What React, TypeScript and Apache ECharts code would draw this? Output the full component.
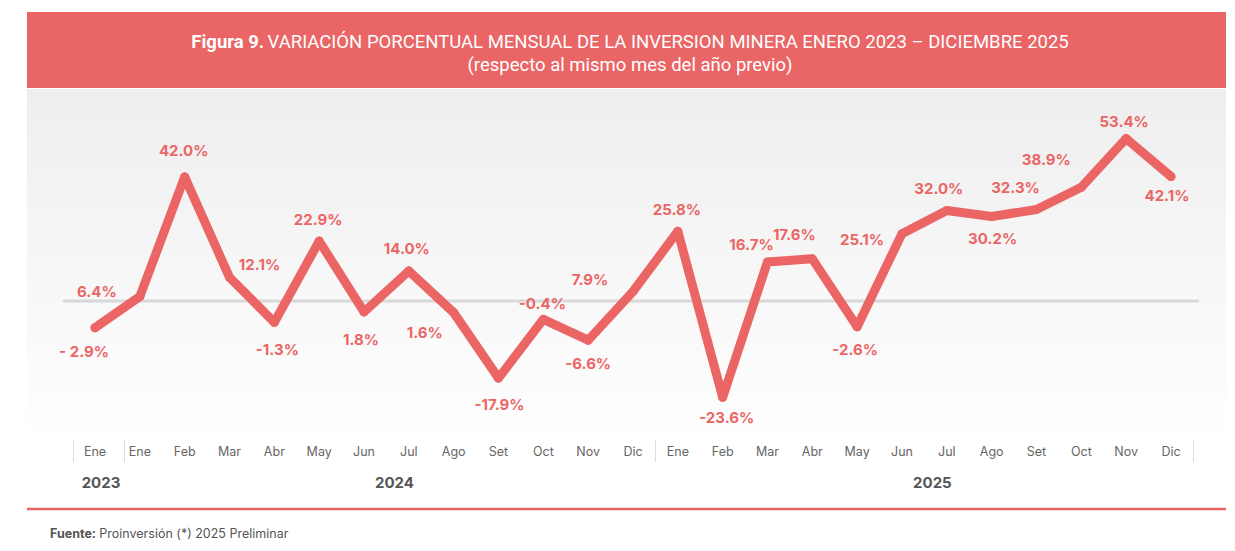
import React, { useEffect, useRef } from "react";
import * as echarts from "echarts";

const months: string[] = [
  "Ene",
  "Ene", "Feb", "Mar", "Abr", "May", "Jun", "Jul", "Ago", "Set", "Oct", "Nov", "Dic",
  "Ene", "Feb", "Mar", "Abr", "May", "Jun", "Jul", "Ago", "Set", "Oct", "Nov", "Dic",
];
const years: string[] = ["2023", "2024", "2025"];
const yearRanges: [number, number][] = [[0, 0], [1, 12], [13, 24]];
const values: number[] = [
  -2.9,
  6.4, 42.0, 12.1, -1.3, 22.9, 1.8, 14.0, 1.6, -17.9, -0.4, -6.6, 7.9,
  25.8, -23.6, 16.7, 17.6, -2.6, 25.1, 32.0, 30.2, 32.3, 38.9, 53.4, 42.1,
];
const valueLabels: string[] = [
  "- 2.9%",
  "6.4%", "42.0%", "12.1%", "-1.3%", "22.9%", "1.8%", "14.0%", "1.6%", "-17.9%", "-0.4%", "-6.6%", "7.9%",
  "25.8%", "-23.6%", "16.7%", "17.6%", "-2.6%", "25.1%", "32.0%", "30.2%", "32.3%", "38.9%", "53.4%", "42.1%",
];
// label offsets relative to each point (styling)
const labelOffsets: [number, number][] = [
  [-11, 24],
  [-43, -5], [-1, -26], [30, -13], [3, 27], [-1, -22], [-3, 28], [-2, -22], [-29, 20], [1, 26], [-1, -16], [0, 23], [-43, -12],
  [-1, -22], [4, 20], [-16, -17], [-18, -24], [-2, 23], [-40, 6], [-8, -22], [1, 22], [-21, -22], [-35, -28], [-2, -17], [-4, 19],
];

const RED = "#EB6565";

export default function App() {
  const ref = useRef<HTMLDivElement>(null);
  useEffect(() => {
    const chart = echarts.init(ref.current!, null, { renderer: "svg" });
    const baseGraphic: any[] = [
      {
        type: "rect", z: -10, silent: true,
        shape: { x: 27, y: 89, width: 1199, height: 420 },
        style: {
          fill: new echarts.graphic.LinearGradient(0, 0, 0, 1, [
            { offset: 0, color: "#eeeeee" },
            { offset: 0.85, color: "#ffffff" },
            { offset: 1, color: "#ffffff" },
          ]),
        },
      },
      {
        type: "rect", z: -5, silent: true,
        shape: { x: 27, y: 12, width: 1199, height: 76 },
        style: { fill: "#EA6566" },
      },
      {
        type: "text", z: 10, x: 630, y: 42, silent: true,
        style: {
          text: "{b|Figura 9.} {n|VARIACIÓN PORCENTUAL MENSUAL DE LA INVERSION MINERA ENERO 2023 – DICIEMBRE 2025}",
          align: "center", verticalAlign: "middle",
          rich: {
            b: { fontFamily: "Roboto", fontSize: 18.5, fontWeight: "bold", fill: "#ffffff" },
            n: { fontFamily: "Roboto", fontSize: 18.5, fill: "#ffffff" },
          },
        },
      },
      {
        type: "text", z: 10, x: 630, y: 65, silent: true,
        style: {
          text: "(respecto al mismo mes del año previo)",
          align: "center", verticalAlign: "middle",
          fontFamily: "Roboto", fontSize: 18.5, fill: "#ffffff",
        },
      },
      {
        type: "line", z: 0, silent: true,
        shape: { x1: 63, y1: 301, x2: 1199, y2: 301 },
        style: { stroke: "#d8d8d8", lineWidth: 3 },
      },
      {
        type: "line", z: 0, silent: true,
        shape: { x1: 27, y1: 509, x2: 1226, y2: 509 },
        style: { stroke: RED, lineWidth: 2.5 },
      },
      {
        type: "text", z: 10, x: 50, y: 533, silent: true,
        style: {
          text: "{b|Fuente:} {n|Proinversión (*) 2025 Preliminar}",
          verticalAlign: "middle",
          rich: {
            b: { fontFamily: "Inter", fontSize: 12.5, fontWeight: "bold", fill: "#555555" },
            n: { fontFamily: "Inter", fontSize: 12.5, fill: "#555555" },
          },
        },
      },
    ];

    const option: any = {
      animation: false,
      grid: { left: 72.6, right: 41.6, top: 116.4, height: 302.4 },
      xAxis: {
        type: "category",
        data: months,
        boundaryGap: true,
        axisLine: { show: false },
        axisTick: { show: false },
        axisLabel: { margin: 26, fontFamily: "Inter", fontSize: 12.5, color: "#666666", interval: 0 },
      },
      yAxis: {
        type: "value",
        min: -30,
        max: 60,
        show: false,
        splitLine: { show: false },
      },
      graphic: baseGraphic,
      series: [
        {
          type: "line",
          z: 5,
          data: values.map((v, i) => ({
            value: v,
            label: { offset: labelOffsets[i] },
          })),
          symbol: "circle",
          symbolSize: 9,
          itemStyle: { color: RED },
          lineStyle: { color: RED, width: 9, cap: "round", join: "round" },
          label: {
            show: true,
            position: "inside",
            formatter: (p: any) => valueLabels[p.dataIndex],
            fontFamily: "Inter",
            fontSize: 15,
            fontWeight: "bold",
            color: RED,
          },
        },
      ],
    };
    chart.setOption(option);

    const px = (i: number) => chart.convertToPixel({ xAxisIndex: 0 }, i) as number;
    const extra: any[] = [];
    const boundaries = [0, 1, 13, 25];
    const step = px(1) - px(0);
    boundaries.forEach((b) => {
      const shift = b === 1 ? 7 : 0;
      const x = Math.round(px(0) + (b - 0.5) * step + shift) + 0.5;
      extra.push({
        type: "line", z: 0, silent: true,
        shape: { x1: x, y1: 440, x2: x, y2: 462 },
        style: { stroke: "#dddddd", lineWidth: 1 },
      });
    });
    years.forEach((y, k) => {
      const [a, b] = yearRanges[k];
      const x = (px(a) + px(b)) / 2 + (k === 0 ? 6 : 8);
      extra.push({
        type: "text", z: 10, x, y: 482, silent: true,
        style: {
          text: y, align: "center", verticalAlign: "middle",
          fontFamily: "Inter", fontSize: 15, fontWeight: "bold", fill: "#555555",
        },
      });
    });
    chart.setOption({ graphic: [...baseGraphic, ...extra] });

    return () => chart.dispose();
  }, []);
  return (
    <div
      ref={ref}
      style={{ position: "fixed", left: 0, top: 0, width: 1235, height: 551, background: "#ffffff" }}
    />
  );
}
